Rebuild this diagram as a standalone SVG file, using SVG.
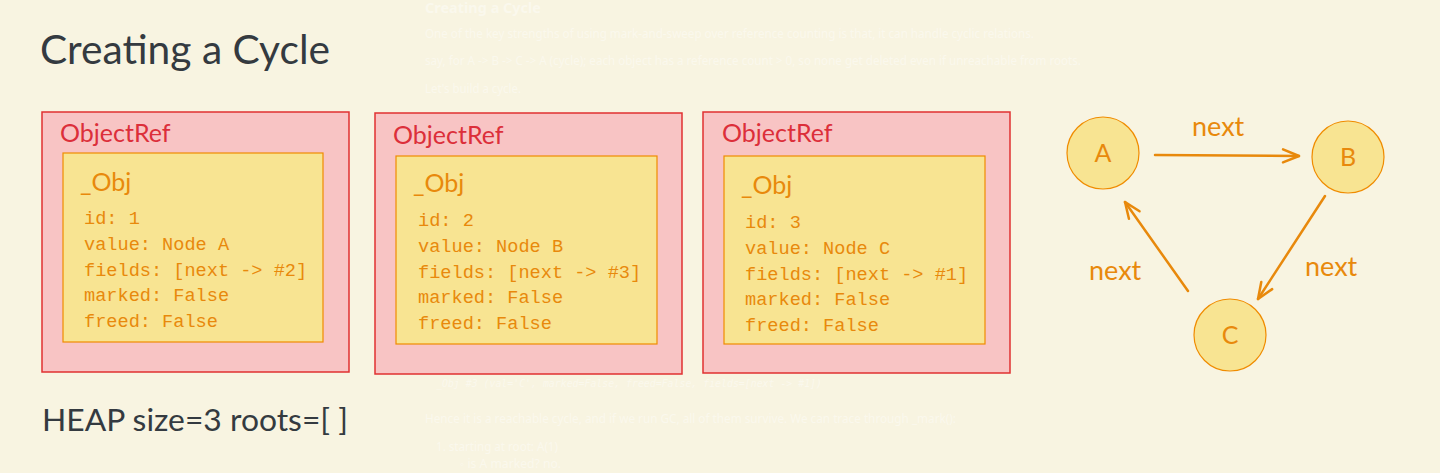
<svg xmlns="http://www.w3.org/2000/svg" width="1440" height="473" viewBox="0 0 1440 473">
<defs>
<style>
.bg{fill:#f8f4e1}
.ghost{fill:#ffffff;opacity:0.4;font-family:"Noto Sans","Open Sans",sans-serif;font-size:12px}
.ghostb{font-weight:bold;font-size:14px}
.ghostm{font-family:"DejaVu Sans Mono","Liberation Mono",monospace;font-size:10px;font-style:italic}
.title{fill:#343a40;font-family:Lato,"Noto Sans",sans-serif}
.ref{fill:#f8c4c4;stroke:#e03131;stroke-width:1.5}
.reft{fill:#dc2f3a;font-family:Lato,"Noto Sans",sans-serif;font-size:25px}
.obj{fill:#f8e492;stroke:#f08c00;stroke-width:1.2}
.objt{fill:#e8890c;font-family:Lato,"Noto Sans",sans-serif;font-size:25px}
.mono{fill:#e8890c;font-family:"Liberation Mono","DejaVu Sans Mono",monospace;font-size:18.6px}
.node{fill:#f8e492;stroke:#f08c00;stroke-width:1.2}
.nodet{fill:#e8890c;font-family:Lato,"Noto Sans",sans-serif;font-size:25px;text-anchor:middle}
.edge{fill:none;stroke:#e8890c;stroke-width:2.5;stroke-linecap:round}
.lbl{fill:#e8890c;font-family:Lato,"Noto Sans",sans-serif;font-size:27px}
</style>
<marker id="arr" markerUnits="userSpaceOnUse" markerWidth="22" markerHeight="18" refX="18" refY="9" orient="auto">
<path d="M2,2.5 L18,9 L2,15.5" fill="none" stroke="#e8890c" stroke-width="2.5" stroke-linecap="round" stroke-linejoin="round"/>
</marker>
</defs>
<rect class="bg" x="0" y="0" width="1440" height="473"/>

<g id="ghost-text">
<text class="ghost ghostb" x="425" y="13" textLength="116" lengthAdjust="spacingAndGlyphs">Creating a Cycle</text>
<text class="ghost" x="425" y="38" textLength="609" lengthAdjust="spacingAndGlyphs">One of the key strengths of using mark-and-sweep over reference counting is that, it can handle cyclic relations.</text>
<text class="ghost" x="425" y="65" textLength="656" lengthAdjust="spacingAndGlyphs">say, for A -&gt; B -&gt; C -&gt; A (cycle); each object has a reference count &gt; 0, so none get deleted even if unreachable from roots.</text>
<text class="ghost" x="425" y="93" textLength="96" lengthAdjust="spacingAndGlyphs">Let's build a cycle.</text>
<text class="ghost ghostm" x="436" y="387" textLength="386" lengthAdjust="spacingAndGlyphs">_Obj #3 (val='C', marked=False, freed=False, fields=[next -&gt; #1])</text>
<text class="ghost" x="425" y="423" textLength="531" lengthAdjust="spacingAndGlyphs">Hence it is a reachable cycle, and if we run GC, all of them survive. We can trace through _mark():</text>
<text class="ghost" x="436" y="451" textLength="122" lengthAdjust="spacingAndGlyphs">1. starting at root: A(1)</text>
<text class="ghost" x="460" y="468" textLength="101" lengthAdjust="spacingAndGlyphs">◦  is A marked? no.</text>
</g>

<text id="title" class="title" x="40" y="64" font-size="40.5" textLength="290" lengthAdjust="spacingAndGlyphs">Creating a Cycle</text>

<g id="objref1">
<rect class="ref" x="42" y="112" width="307" height="260"/>
<text class="reft" x="60" y="142">ObjectRef</text>
<g id="obj1">
<rect class="obj" x="63" y="153" width="260" height="189"/>
<text class="objt" x="80" y="191">_Obj</text>
<text class="mono" x="84" y="224">id: 1</text>
<text class="mono" x="84" y="250">value: Node A</text>
<text class="mono" x="84" y="276">fields: [next -&gt; #2]</text>
<text class="mono" x="84" y="301">marked: False</text>
<text class="mono" x="84" y="327">freed: False</text>
</g>
</g>

<g id="objref2">
<rect class="ref" x="375" y="113" width="307" height="261"/>
<text class="reft" x="393" y="144">ObjectRef</text>
<g id="obj2">
<rect class="obj" x="396" y="156" width="261" height="188"/>
<text class="objt" x="413" y="192">_Obj</text>
<text class="mono" x="418" y="226">id: 2</text>
<text class="mono" x="418" y="252">value: Node B</text>
<text class="mono" x="418" y="278">fields: [next -&gt; #3]</text>
<text class="mono" x="418" y="303">marked: False</text>
<text class="mono" x="418" y="329">freed: False</text>
</g>
</g>

<g id="objref3">
<rect class="ref" x="703" y="112" width="307" height="261"/>
<text class="reft" x="722" y="142">ObjectRef</text>
<g id="obj3">
<rect class="obj" x="724" y="156" width="261" height="188"/>
<text class="objt" x="741" y="194">_Obj</text>
<text class="mono" x="745" y="228">id: 3</text>
<text class="mono" x="745" y="254">value: Node C</text>
<text class="mono" x="745" y="280">fields: [next -&gt; #1]</text>
<text class="mono" x="745" y="305">marked: False</text>
<text class="mono" x="745" y="331">freed: False</text>
</g>
</g>

<text id="heap" class="title" x="42" y="431" font-size="31" textLength="306" lengthAdjust="spacingAndGlyphs">HEAP size=3 roots=[ ]</text>

<g id="connectors">
<line class="edge" x1="1155" y1="155" x2="1299" y2="156" marker-end="url(#arr)"/>
<line class="edge" x1="1325" y1="196" x2="1258" y2="299" marker-end="url(#arr)"/>
<line class="edge" x1="1188" y1="291" x2="1125" y2="202" marker-end="url(#arr)"/>
<text class="lbl" x="1192" y="136">next</text>
<text class="lbl" x="1305" y="276">next</text>
<text class="lbl" x="1089" y="280">next</text>
</g>

<g id="nodeA">
<circle class="node" cx="1103" cy="153" r="36"/>
<text class="nodet" x="1103" y="162">A</text>
</g>
<g id="nodeB">
<circle class="node" cx="1348" cy="157" r="36"/>
<text class="nodet" x="1348" y="166">B</text>
</g>
<g id="nodeC">
<circle class="node" cx="1230" cy="335" r="36"/>
<text class="nodet" x="1230" y="344">C</text>
</g>
</svg>
